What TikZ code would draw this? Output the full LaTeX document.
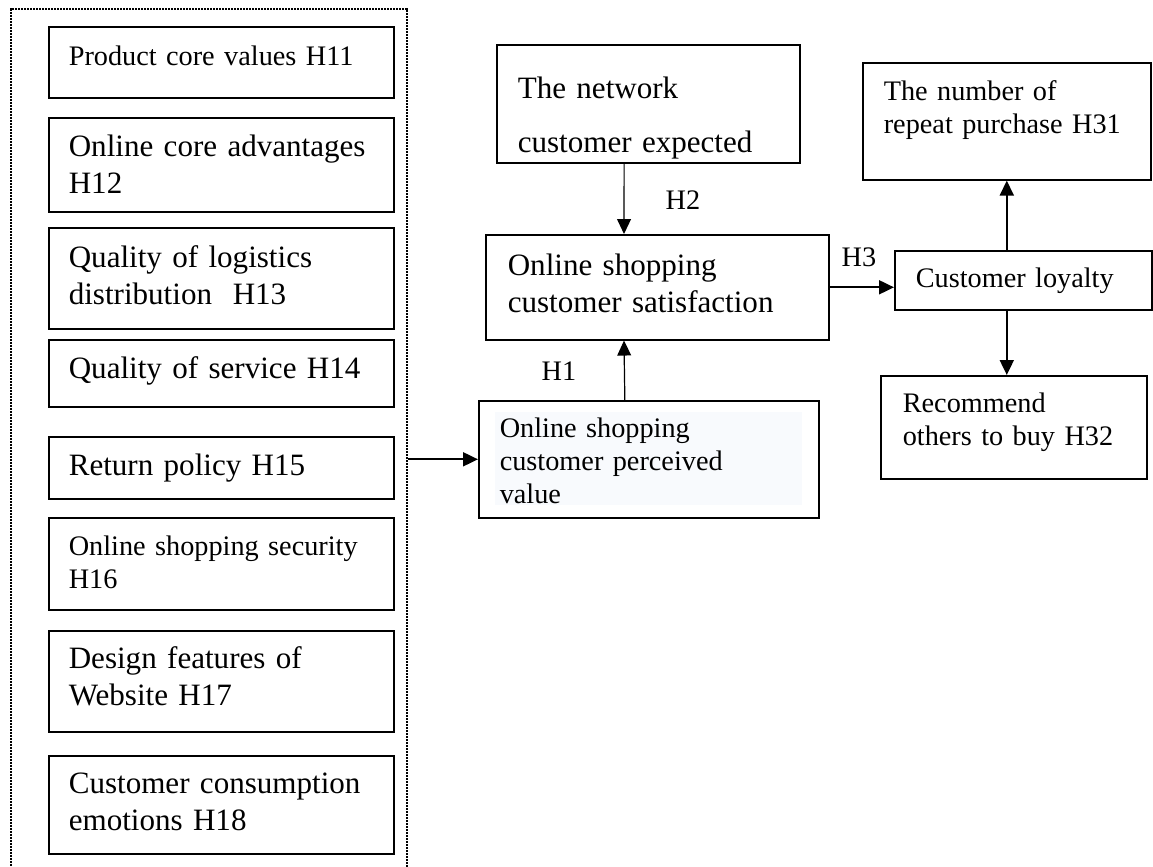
\documentclass[tikz,border=0pt]{standalone}
\usepackage{fontspec}
\setmainfont{Liberation Serif}
\usetikzlibrary{arrows.meta,positioning}
\newdimen\px \px=0.375pt
\newcommand\bigtext{\fontsize{11.65pt}{13.9pt}\selectfont\hyphenpenalty=10000 }
\newcommand\smalltext{\fontsize{10.6pt}{12.4pt}\selectfont\hyphenpenalty=10000 }
\definecolor{paleblue}{RGB}{248,250,253}
\tikzstyle{box}=[draw, line width=.6pt, anchor=north west, align=left,
  inner xsep=20\px, inner ysep=0pt, text height=39\px, font=\bigtext]
\tikzstyle{frame}=[draw, line width=.75pt, dash pattern=on .6pt off .525pt,
  anchor=north west, inner sep=0pt]
\tikzstyle{arr}=[->, line width=.8pt]
\tikzstyle{thinarr}=[->, line width=.45pt]
\tikzstyle{hlabel}=[inner sep=0pt, font=\smalltext]

\begin{document}
\begin{tikzpicture}[>={Triangle[length=5.6pt,width=5.2pt]}, x=0.375pt, y=-0.375pt]
  \useasboundingbox (0,0) rectangle (1153,867);

  % factors
  \node[frame, minimum width=396\px, minimum height=900\px] (frame) at (10,8) {};
  \node[box, font=\smalltext, text width=305\px, text depth=32\px] (h11) at (48,26) {Product core values H11};
  \node[box, text width=305\px, text depth=55\px] (h12) at (48,117) {Online core advantages\\H12};
  \node[box, text width=305\px, text height=40\px, text depth=61\px] (h13) at (48,227) {Quality of logistics\\distribution\ \ H13};
  \node[box, text width=305\px, text depth=28\px] (h14) at (48,339) {Quality of service H14};
  \node[box, text width=305\px, text depth=23\px] (h15) at (48,436) {Return policy H15};
  \node[box, font=\smalltext, text width=305\px, text height=38\px, text depth=54\px] (h16) at (48,517) {Online shopping security\\H16};
  \node[box, text width=305\px, text height=38\px, text depth=63\px] (h17) at (48,630) {Design features of\\Website H17};
  \node[box, text width=305\px, text height=38\px, text depth=60\px] (h18) at (48,755) {Customer consumption\\emotions H18};

  % model
  \node[box, inner xsep=21\px, text width=261\px, text height=54\px, text depth=64\px] (expect) at (496,44) {The network\\[6.4pt]customer expected};
  \node[box, inner xsep=22\px, text width=299\px, text height=41\px, text depth=64\px] (satis) at (485,234) {Online shopping\\customer satisfaction};
  \fill[paleblue] (495,412) rectangle (802,505);
  \node[box, font=\smalltext, inner xsep=21\px, text width=298\px, text height=37\px, text depth=80\px] (perc) at (478,400) {Online shopping\\customer perceived\\value};
  \node[box, font=\smalltext, inner xsep=21\px, text width=246\px, text height=38\px, text depth=79\px] (repeat) at (862,62) {The number of\\repeat purchase H31};
  \node[box, font=\smalltext, inner xsep=21\px, text width=215\px, text height=37\px, text depth=22\px] (loyal) at (894,250) {Customer loyalty};
  \node[box, font=\smalltext, inner xsep=22\px, text width=222\px, text height=37\px, text depth=66\px] (recom) at (880,375) {Recommend\\others to buy H32};

  \draw[arr] (perc.west -| frame.east) -- (perc.west);
  \draw[thinarr] (expect.248) -- (satis.122);
  \draw[thinarr] (perc.112) -- (satis.238);
  \draw[arr] (satis.east) -- (satis.east -| loyal.west);
  \draw[arr] (loyal.north -| repeat.south) -- (repeat.south);
  \draw[arr] (loyal.south -| repeat.south) -- (recom.north -| repeat.south);

  \node[hlabel] (h2) at (683,200) {H2};
  \node[hlabel] (h1) at (559,371) {H1};
  \node[hlabel] (h3) at (859,257) {H3};
\end{tikzpicture}
\end{document}
